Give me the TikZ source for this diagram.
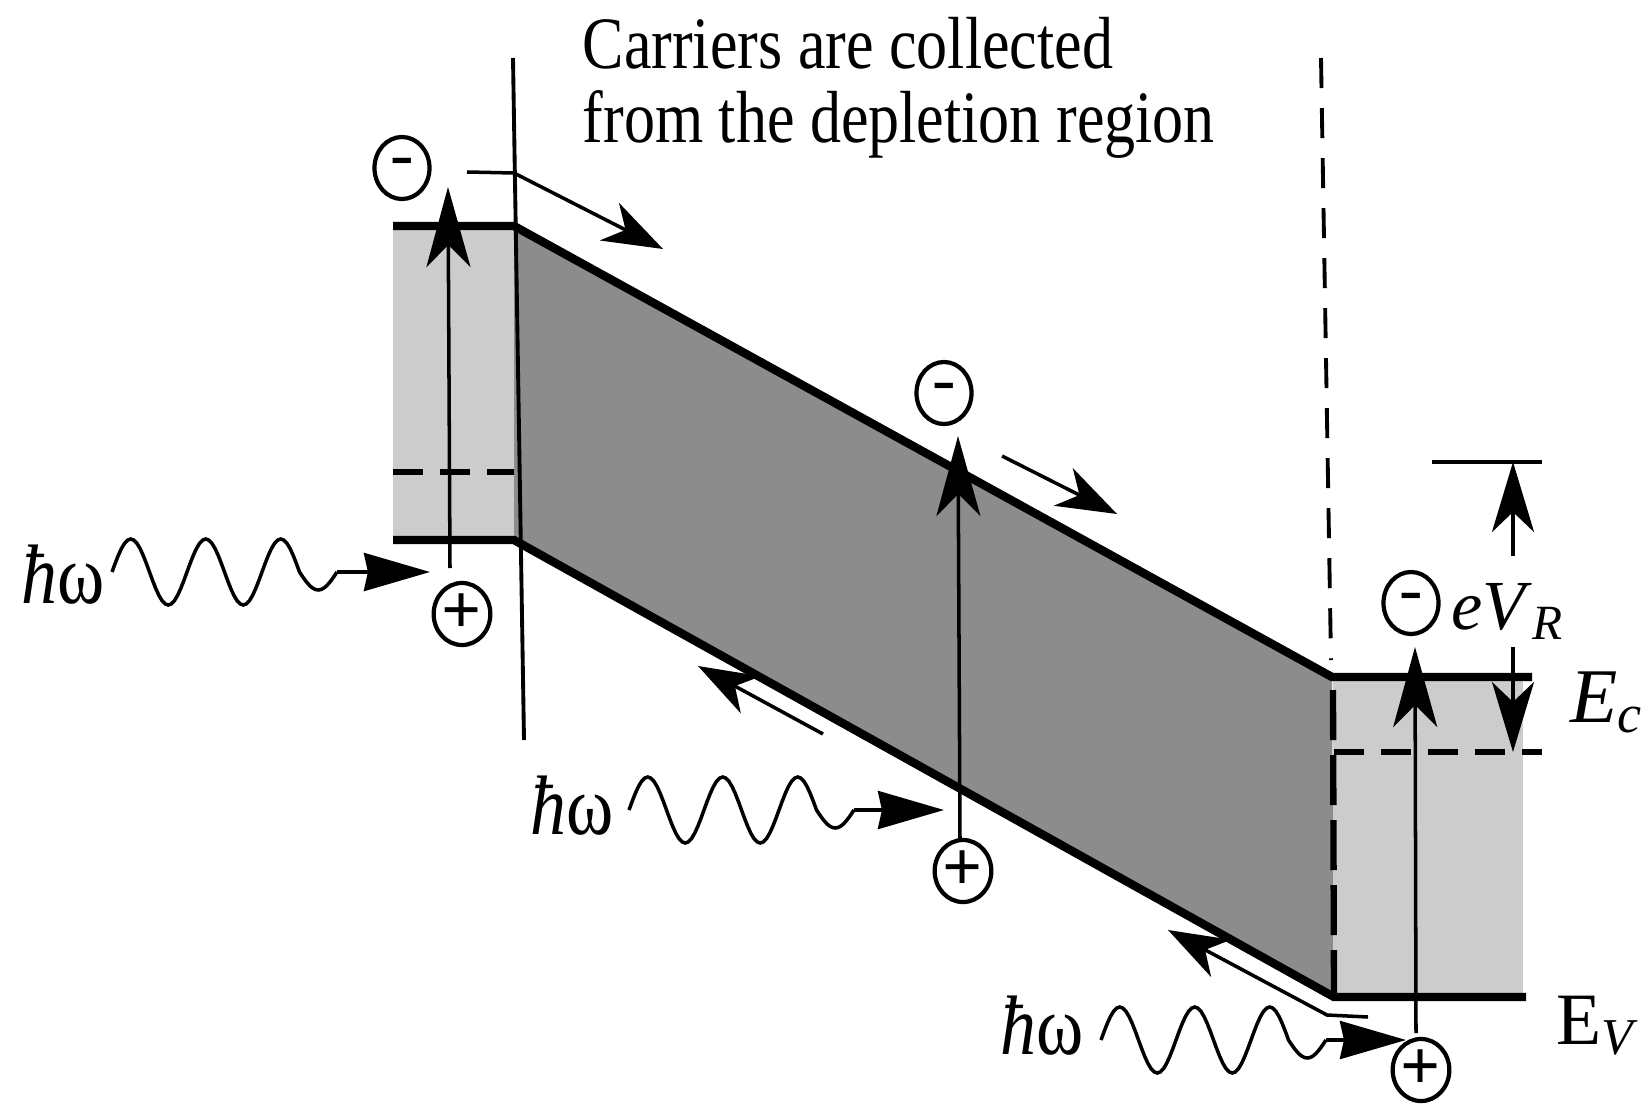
\documentclass[tikz,border=0pt]{standalone}
\usepackage{fontspec}
\setmainfont{Liberation Serif}
\newfontfamily\titlefont{Liberation Serif}[FakeStretch=0.84]
\newfontfamily\hwfont{Liberation Serif}[FakeStretch=0.85]
\usetikzlibrary{arrows.meta, calc, shapes.geometric, positioning}

% one photon: a wave of three periods, the last trough smaller
\newcommand{\photonwave}[2]{%
  \begin{scope}[shift={(#1)}]
    \draw[wave] plot[domain=0:900, samples=61] ({\x/360*75}, {-33*sin(\x)})
       -- plot[domain=900:1080, samples=15] ({\x/360*75}, {-18*sin(\x)});
    \coordinate (#2) at (225,0);
  \end{scope}}

\begin{document}
\begin{tikzpicture}[
    x=0.01cm, y=-0.01cm,
    every node/.style={font=\fontsize{20}{24}\selectfont, inner sep=0pt},
    hw/.style={anchor=base west, font=\hwfont\fontsize{24}{28}\selectfont},
    bandedge/.style={line width=2.4pt},
    fermi/.style={line width=1.8pt, dash pattern=on 0.3cm off 0.17cm},
    junction/.style={line width=1.1pt},
    excite/.style={line width=1pt, -{Stealth[length=0.8cm, width=0.44cm, inset=0.22cm]}},
    drift/.style={line width=1pt, -{Stealth[length=0.6cm, width=0.42cm, inset=0.18cm]}},
    photon/.style={line width=1pt, -{Stealth[length=0.66cm, width=0.38cm, inset=0.04cm]}},
    bias/.style={line width=1pt, -{Stealth[length=0.7cm, width=0.42cm, inset=0.2cm]}},
    wave/.style={line width=1pt},
    carrier/.style={ellipse, draw, line width=1.2pt, fill=white,
       minimum width=0.55cm, minimum height=0.62cm, inner sep=0pt},
]
\useasboundingbox (0,0) rectangle (1645,1106);
% bands: p side, depletion region, n side
\fill[black!20] (393,226) rectangle (514,540);
\fill[black!45] (514,226) -- (1332,677) -- (1334,997) -- (514,540) -- cycle;
\fill[black!20] (1333,677) rectangle (1523,997);
% band edges
\draw[bandedge] (393,226) -- (514,226) -- (1332,677) -- (1532,677);
\draw[bandedge] (393,540) -- (514,540) -- (1334,997) -- (1526,997);
% fermi levels
\draw[fermi] (393,472) -- (514,472);
\draw[fermi] (1334,752) -- (1542,752);
% edges of the depletion region
\draw[junction] (513,58) -- (524,740);
\draw[junction, dash pattern=on 0.3cm off 0.2cm] (1321,58) -- (1331,660);
\draw[line width=1.8pt, dash pattern=on 0.5cm off 0.15cm] (1333,690) -- (1334,997);
% title
\node[anchor=base west, font=\titlefont\fontsize{21}{25}\selectfont] (title1) at (582,68)
   {Carriers are collected};
\node[anchor=base west, font=\titlefont\fontsize{21}{25}\selectfont] (title2) at (582,142)
   {from the depletion region};

% carriers
\node[carrier] (nL) at (402,168) {-};
\node[carrier] (pL) at (462,614) {\textbf{+}};
\node[carrier] (nM) at (944,393) {-};
\node[carrier] (pM) at (963,871) {\textbf{+}};
\node[carrier] (nR) at (1411,603) {-};
\node[carrier] (pR) at (1421,1070) {\textbf{+}};

% excitation across the gap
\coordinate (xL0) at (450,568);  \coordinate (xL1) at (448,187);
\coordinate (xM0) at (960,840);  \coordinate (xM1) at (958,436);
\coordinate (xR0) at (1416,1033); \coordinate (xR1) at (1415,647);
\draw[excite] (xL0) -- (xL1);
\draw[excite] (xM0) -- (xM1);
\draw[excite] (xR0) -- (xR1);

% drift of electrons and holes
\coordinate (dL0) at (467,172);
\draw[drift] (dL0) -- (514,173) -- (663,249);
\coordinate (dM0) at (1002,456); \coordinate (dM1) at (1117,514);
\draw[drift] (dM0) -- (dM1);
\coordinate (hM0) at (823,734); \coordinate (hM1) at (698,666);
\draw[drift] (hM0) -- (hM1);
\coordinate (hR0) at (1368,1017); \coordinate (hR1) at (1168,930);
\draw[drift] (hR0) -- (1327,1015) -- (hR1);

% incoming photons
\node[hw] (hwL) at (21,603) {\textit{ħ}ω};
\photonwave{112,572}{wL}
\coordinate (tL) at (430,572);
\draw[photon] (wL) -- (tL);
\node[hw] (hwM) at (530,834) {\textit{ħ}ω};
\photonwave{629,810}{wM}
\coordinate (tM) at (944,810);
\draw[photon] (wM) -- (tM);
\node[hw] (hwR) at (1000,1054) {\textit{ħ}ω};
\photonwave{1101,1040}{wR}
\coordinate (tR) at (1406,1040);
\draw[photon] (wR) -- (tR);

% reverse bias eV_R
\coordinate (vTop) at (1513,462); \coordinate (vBot) at (1513,752);
\draw[junction] (1432,462) -- (1542,462);
\draw[bias] (1513,556) -- (vTop);
\draw[bias] (1513,647) -- (vBot);
\node[anchor=base, fill=white, inner sep=1pt] (eVR) at (1508,629) {\textit{eV}\textsubscript{\textit{R}}};
\node[anchor=base west, font=\fontsize{22}{26}\selectfont] (Ec) at (1570,722) {\textit{E}\textsubscript{\textit{c}}};
\node[anchor=base west, font=\fontsize{21}{25}\selectfont] (Ev) at (1556,1044) {E\textsubscript{\textit{V}}};
\end{tikzpicture}
\end{document}
